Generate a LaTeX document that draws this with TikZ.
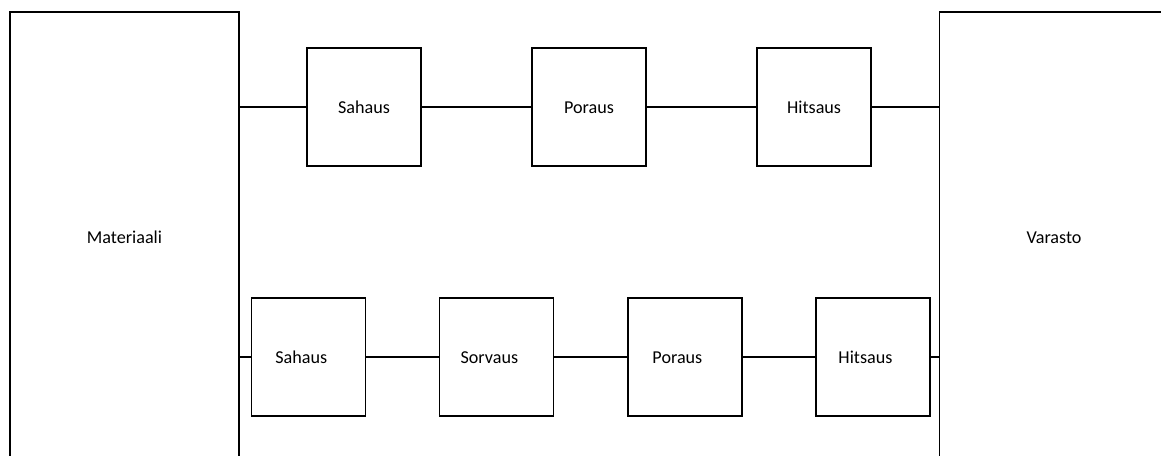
\documentclass[tikz,border=0pt]{standalone}
\usepackage{fontspec}
\setmainfont{Carlito}
\usetikzlibrary{positioning}

\tikzset{
  words/.style = {text height=2.15ex, text depth=0.3ex},
  stage/.style = {draw, words, minimum width=2.85cm, minimum height=2.95cm,
    inner sep=0pt, outer sep=0pt},
  lowstage/.style = {stage, label={[xshift=-0.18cm, words]center:#1}},
  store/.style = {draw, words, minimum width=5.725cm, minimum height=11.25cm,
    inner sep=0pt, outer sep=0pt}
}

\begin{document}
\begin{tikzpicture}[x=0.025cm, y=-0.025cm, line width=1.3pt,
    font=\fontsize{12.9}{15}\selectfont]
    \useasboundingbox (0,0) rectangle (1161,455);
    \clip (0,0) rectangle (1161,455);

    \node[store] (mat) at (124.5,237) {Materiaali};
    \node[store] (var) at (1054,237) {Varasto};

    % upper line
    \node[stage] (saw1) at (364,107) {Sahaus};
    \node[stage, right=2.775cm of saw1] (drill1) {Poraus};
    \node[stage, right=2.775cm of drill1] (weld1) {Hitsaus};

    % lower line
    \node[lowstage=Sahaus] (saw2) at (308.5,357) {};
    \node[lowstage=Sorvaus, right=1.85cm of saw2] (lathe2) {};
    \node[lowstage=Poraus, right=1.85cm of lathe2] (drill2) {};
    \node[lowstage=Hitsaus, right=1.85cm of drill2] (weld2) {};

    \draw (saw1.west -| mat.east) -- (saw1.west);
    \draw (saw1) -- (drill1) -- (weld1);
    \draw (weld1.east) -- (weld1.east -| var.west);

    \draw (saw2.west -| mat.east) -- (saw2.west);
    \draw (saw2) -- (lathe2) -- (drill2) -- (weld2);
    \draw (weld2.east) -- (weld2.east -| var.west);
\end{tikzpicture}
\end{document}
